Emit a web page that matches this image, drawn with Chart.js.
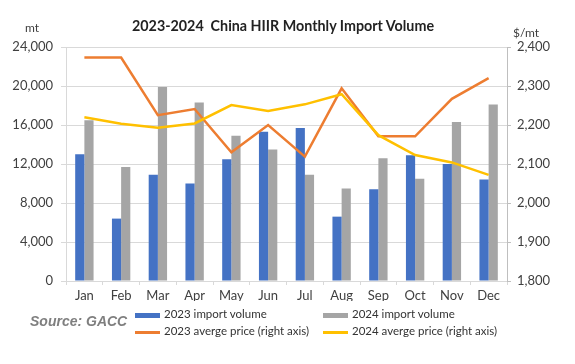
<!DOCTYPE html>
<html>
<head>
<meta charset="utf-8">
<script src="https://cdn.jsdelivr.net/npm/chart.js@4/dist/chart.umd.min.js"></script>
<style>
  html, body { margin: 0; padding: 0; background: #fff; }
  #wrap { position: relative; width: 575px; height: 364px; overflow: hidden; }
  #c { position: absolute; left: 0; top: 0; }
  .t { position: absolute; white-space: nowrap; font-family: Lato, "Open Sans", sans-serif; color: #000; }
  #title { left: 132px; top: 17px; font-size: 14.3px; font-weight: bold; color: #222; }
  #ul { left: 25px; top: 20px; font-size: 12px; color: #404040; }
  #ur { left: 513px; top: 25px; font-size: 12px; color: #404040; }
  #src { left: 30px; top: 313px; font-family: "Liberation Sans", Arial, sans-serif; font-weight: bold; font-style: italic; font-size: 14px; color: #7f7f7f; }
  .lg { position: absolute; font-family: Lato, "Open Sans", sans-serif; font-size: 11.5px; color: #333; white-space: nowrap; }
  .sw { position: absolute; width: 25px; }
</style>
</head>
<body>
<div id="wrap">
  <canvas id="c" width="575" height="364"></canvas>
  <div class="t" id="title">2023-2024&nbsp; China HIIR Monthly Import Volume</div>
  <div class="t" id="ul">mt</div>
  <div class="t" id="ur">$/mt</div>
  <div class="t" id="src">Source: GACC</div>
  <div id="legend"></div>
</div>
<script>
const months = ["Jan","Feb","Mar","Apr","May","Jun","Jul","Aug","Sep","Oct","Nov","Dec"];
const volume2023 = [13000, 6400, 10900, 10000, 12500, 15300, 15700, 6600, 9400, 12900, 12000, 10400];
const volume2024 = [16500, 11700, 19900, 18300, 14900, 13500, 10900, 9500, 12600, 10500, 16300, 18100];
const price2023 = [2373, 2373, 2225, 2241, 2130, 2200, 2119, 2294, 2171, 2171, 2267, 2320];
const price2024 = [2220, 2203, 2193, 2204, 2251, 2236, 2253, 2279, 2174, 2123, 2104, 2072];
const leftTicks = [0, 4000, 8000, 12000, 16000, 20000, 24000];
const rightTicks = [1800, 1900, 2000, 2100, 2200, 2300, 2400];
const seriesNames = ["2023 import volume", "2024 import volume", "2023 averge price (right axis)", "2024 averge price (right axis)"];
const colors = ["#4472C4", "#A5A5A5", "#ED7D31", "#FFC000"];

const fmt = v => v.toLocaleString("en-US");
const tickFont = { family: "Lato, 'Open Sans', sans-serif", size: 13 };

new Chart(document.getElementById("c"), {
  data: {
    labels: months,
    datasets: [
      { type: "bar", label: seriesNames[0], data: volume2023, backgroundColor: colors[0], yAxisID: "y", order: 10, categoryPercentage: 0.5, barPercentage: 1.0 },
      { type: "bar", label: seriesNames[1], data: volume2024, backgroundColor: colors[1], yAxisID: "y", order: 10, categoryPercentage: 0.5, barPercentage: 1.0 },
      { type: "line", label: seriesNames[2], data: price2023, borderColor: colors[2], borderWidth: 2.5, pointRadius: 0, tension: 0, yAxisID: "y1", order: 2 },
      { type: "line", label: seriesNames[3], data: price2024, borderColor: colors[3], borderWidth: 2.5, pointRadius: 0, tension: 0, yAxisID: "y1", order: 1 }
    ]
  },
  options: {
    responsive: false,
    animation: false,
    layout: { padding: { top: 47, bottom: 63, left: 0, right: 0 } },
    plugins: { legend: { display: false }, title: { display: false }, tooltip: { enabled: false } },
    scales: {
      x: {
        offset: true,
        grid: { display: true, drawOnChartArea: false, offset: true, tickLength: 4, color: "#d9d9d9" },
        border: { color: "#d9d9d9" },
        ticks: { color: "#404040", font: tickFont, padding: 3, maxRotation: 0 },
        afterFit: s => { s.height = 20; }
      },
      y: {
        position: "left",
        min: 0, max: 24000,
        afterBuildTicks: s => { s.ticks = leftTicks.map(v => ({ value: v })); },
        ticks: { color: "#404040", font: tickFont, padding: 8, callback: v => fmt(v) },
        grid: { color: "#d9d9d9", tickLength: 5 },
        border: { color: "#d9d9d9" },
        afterFit: s => { s.width = 66; }
      },
      y1: {
        position: "right",
        min: 1800, max: 2400,
        afterBuildTicks: s => { s.ticks = rightTicks.map(v => ({ value: v })); },
        ticks: { color: "#404040", font: tickFont, padding: 6, callback: v => fmt(v) },
        grid: { drawOnChartArea: false, color: "#bfbfbf", tickLength: 4 },
        border: { color: "#bfbfbf" },
        afterFit: s => { s.width = 68; }
      }
    }
  }
});

// HTML legend in two columns
const lg = document.getElementById("legend");
const pos = [[135, 315], [323, 315], [135, 332], [323, 332]];
seriesNames.forEach((name, i) => {
  const [x, y] = pos[i];
  const sw = document.createElement("div");
  sw.className = "sw";
  const h = i < 2 ? 5 : 3;
  sw.style.left = x + "px";
  sw.style.top = (y - h / 2) + "px";
  sw.style.height = h + "px";
  sw.style.background = colors[i];
  lg.appendChild(sw);
  const tx = document.createElement("div");
  tx.className = "lg";
  tx.style.left = (x + 29) + "px";
  tx.style.top = (y - 8) + "px";
  tx.textContent = name;
  lg.appendChild(tx);
});
</script>
</body>
</html>
